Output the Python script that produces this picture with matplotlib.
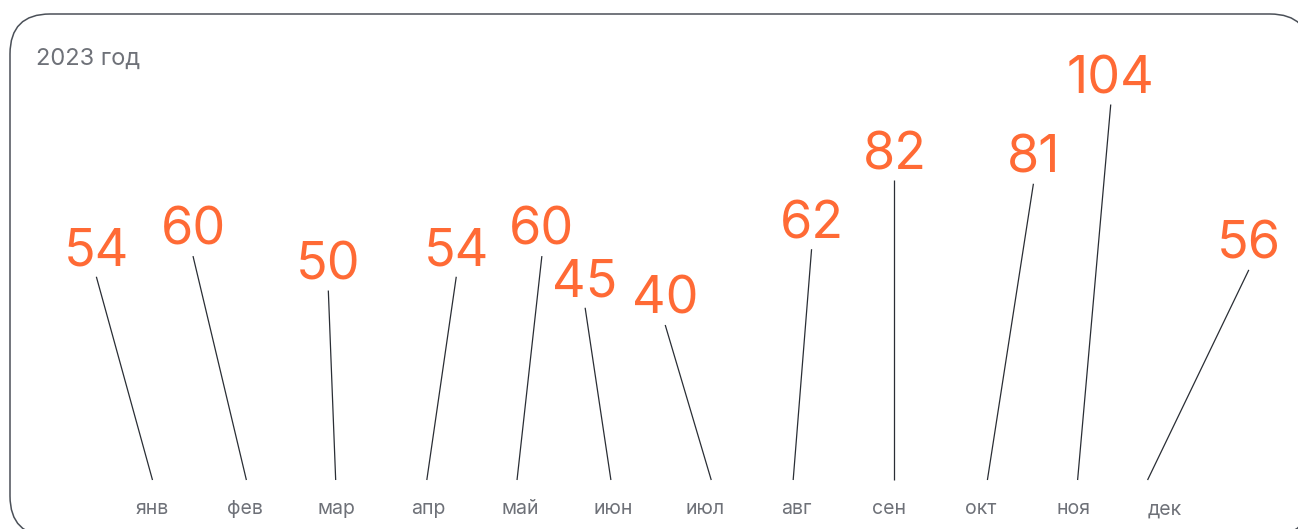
import matplotlib
matplotlib.use("Agg")
import matplotlib.pyplot as plt
from matplotlib.patches import FancyBboxPatch
from matplotlib.transforms import IdentityTransform

# ---- data ----
months = ["янв", "фев", "мар", "апр", "май", "июн", "июл", "авг", "сен", "окт", "ноя", "дек"]
values = [54, 60, 50, 54, 60, 45, 40, 62, 82, 81, 104, 56]
title = "2023 год"

# ---- layout (label placement, in month units) ----
top_shift = [-0.61, -0.56, -0.09, 0.30, 0.23, -0.30, -0.43, 0.16, 0.06, 0.57, 0.41, 0.91]
bottom_shift = [0.0, 0.02, -0.01, -0.02, -0.04, -0.02, 0.07, -0.04, 0.06, 0.07, 0.05, -0.19]
base_level = -5.0
month_label_y = -14.9

ORANGE = "#FF6A35"
GRAY = "#6E7178"
LINE = "#2A2E35"

plt.rcParams['font.family'] = ['Inter', 'DejaVu Sans']

W, H = 1298, 529
fig = plt.figure(figsize=(W / 100, H / 100), dpi=100)
fig.patch.set_facecolor("white")

# rounded frame (display pixels); right and bottom edges run past the image.
# Filled white so the renderer does not clip the outline to the canvas edge.
frame = FancyBboxPatch((10, -7), 1300, H - 14 + 7, boxstyle="round,pad=0,rounding_size=40",
                       transform=IdentityTransform(), facecolor="white",
                       edgecolor="#4B5058", linewidth=1.1, zorder=-5)
fig.patches.append(frame)

ax = fig.add_axes([0, 0, 1, 1])
ax.set_xlim(-152.5 / 92.05, (W - 152.5) / 92.05)
ax.set_ylim(-19.22, 134.34)
ax.axis("off")

for i, (m, v) in enumerate(zip(months, values)):
    xb = i + bottom_shift[i]
    xt = i + top_shift[i]
    ax.plot([xb, xt], [base_level, v], color=LINE, linewidth=0.9, solid_capstyle="butt")
    ax.annotate(str(v), xy=(xt, v), xytext=(0, 8), textcoords="offset points",
                ha="center", va="baseline", fontsize=37.5, color=ORANGE)
    ax.text(i, month_label_y, m, ha="center", va="baseline", fontsize=14, color=GRAY)

fig.text(36 / W, 1 - 65 / H, title, ha="left", va="baseline", fontsize=17, color=GRAY)

fig.savefig("out.png", dpi=100)
